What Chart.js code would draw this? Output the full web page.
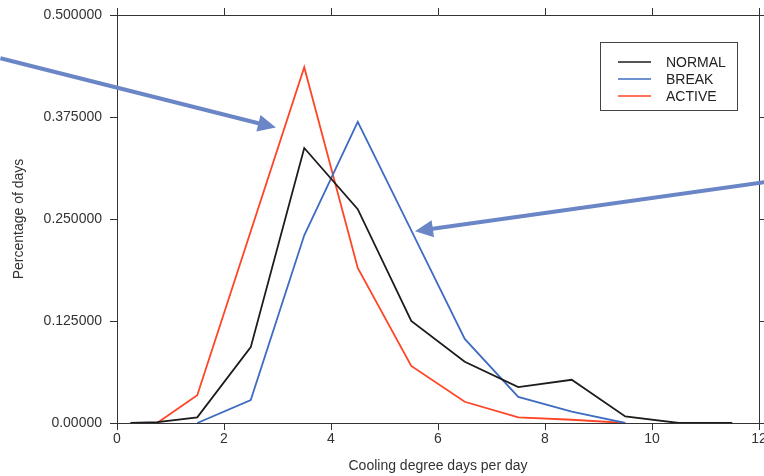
<!DOCTYPE html>
<html>
<head>
<meta charset="utf-8">
<script src="https://cdn.jsdelivr.net/npm/chart.js@4"></script>
<style>
  html, body { margin: 0; padding: 0; background: #fff; }
  #wrap { width: 764px; height: 476px; }
</style>
</head>
<body>
<div id="wrap"><canvas id="cdd-chart" width="764" height="476"></canvas></div>
<script>
// x positions (cooling degree days per day, bin centres)
const binCentres = [0.25, 0.75, 1.5, 2.5, 3.5, 4.5, 5.5, 6.5, 7.5, 8.5, 9.5, 10.5, 11.5];
// fraction of days per bin
const normalDays = [0, 0.001, 0.007, 0.093, 0.337, 0.262, 0.125, 0.075, 0.044, 0.053, 0.008, 0, 0];
const breakDays  = [null, null, 0, 0.028, 0.230, 0.369, 0.236, 0.103, 0.032, 0.014, 0, null, null];
const activeDays = [null, 0, 0.034, 0.235, 0.436, 0.190, 0.070, 0.026, 0.007, 0.004, 0, null, null];

const seriesLabels = ['NORMAL', 'BREAK', 'ACTIVE'];
const seriesColors = ['#1c1c1c', '#3d6cc2', '#ff4526'];

const xTicks = [0, 2, 4, 6, 8, 10, 12];
const yTicks = [0, 0.125, 0.25, 0.375, 0.5];

// annotation arrows in data units: [fromX, fromY, toX, toY]
const arrows = [
    [-2.18, 0.447, 2.97, 0.362],
    [12.1, 0.295, 5.57, 0.235]
];

function toPoints(values) {
    return binCentres.map((x, i) => ({ x: x, y: values[i] }));
}

// Custom legend box + arrows drawn over the chart
const extrasPlugin = {
    id: 'extras',
    afterDraw(chart) {
        const ctx = chart.ctx;
        const xs = chart.scales.x;
        const ys = chart.scales.y;

        // arrows
        ctx.save();
        ctx.strokeStyle = '#6a86c6';
        ctx.fillStyle = '#6a86c6';
        ctx.lineWidth = 4;
        arrows.forEach(a => {
            const x1 = xs.getPixelForValue(a[0]);
            const y1 = ys.getPixelForValue(a[1]);
            const x2 = xs.getPixelForValue(a[2]);
            const y2 = ys.getPixelForValue(a[3]);
            const ang = Math.atan2(y2 - y1, x2 - x1);
            const headLen = 18, headW = 8.5;
            const bx = x2 - headLen * Math.cos(ang);
            const by = y2 - headLen * Math.sin(ang);
            ctx.beginPath();
            ctx.moveTo(x1, y1);
            ctx.lineTo(bx + 2 * Math.cos(ang), by + 2 * Math.sin(ang));
            ctx.stroke();
            ctx.beginPath();
            ctx.moveTo(x2, y2);
            ctx.lineTo(bx + headW * Math.sin(ang), by - headW * Math.cos(ang));
            ctx.lineTo(bx - headW * Math.sin(ang), by + headW * Math.cos(ang));
            ctx.closePath();
            ctx.fill();
        });
        ctx.restore();

        // legend
        const left = 600, top = 42, w = 137, h = 68;
        ctx.save();
        ctx.fillStyle = '#fff';
        ctx.fillRect(left, top, w, h);
        ctx.strokeStyle = '#444';
        ctx.lineWidth = 1;
        ctx.strokeRect(left + 0.5, top + 0.5, w, h);
        ctx.font = '14px "Liberation Sans", Arial, sans-serif';
        ctx.textBaseline = 'middle';
        chart.data.datasets.forEach((ds, i) => {
            const y = top + 20 + i * 17;
            ctx.strokeStyle = ds.borderColor;
            ctx.lineWidth = 1.5;
            ctx.beginPath();
            ctx.moveTo(left + 18, y);
            ctx.lineTo(left + 51, y);
            ctx.stroke();
            ctx.fillStyle = '#222';
            ctx.fillText(ds.label, left + 66, y + 1);
        });
        ctx.restore();
    }
};

const frameGrid = {
    drawOnChartArea: false,
    drawTicks: true,
    tickLength: 7,
    color: '#333',
    lineWidth: 1
};
const frameBorder = { display: true, color: '#333', width: 1 };

new Chart(document.getElementById('cdd-chart'), {
    type: 'line',
    data: {
        datasets: [
            { label: seriesLabels[0], data: toPoints(normalDays), borderColor: seriesColors[0] },
            { label: seriesLabels[1], data: toPoints(breakDays), borderColor: seriesColors[1] },
            { label: seriesLabels[2], data: toPoints(activeDays), borderColor: seriesColors[2] }
        ].map(ds => Object.assign(ds, {
            borderWidth: 1.8,
            pointRadius: 0,
            tension: 0,
            fill: false,
            spanGaps: false,
            xAxisID: 'x',
            yAxisID: 'y'
        }))
    },
    options: {
        responsive: false,
        animation: false,
        events: [],
        layout: { padding: 0 },
        plugins: {
            legend: { display: false },
            tooltip: { enabled: false }
        },
        scales: {
            x: {
                type: 'linear',
                position: 'bottom',
                min: 0,
                max: 12,
                afterBuildTicks: s => { s.ticks = xTicks.map(v => ({ value: v })); },
                grid: frameGrid,
                border: frameBorder,
                ticks: {
                    padding: 1,
                    maxRotation: 0,
                    color: '#333',
                    font: { family: '"Liberation Sans", Arial, sans-serif', size: 14 }
                },
                title: {
                    display: true,
                    text: 'Cooling degree days per day',
                    color: '#333',
                    padding: { top: 0, bottom: 1 },
                    font: { family: '"Liberation Sans", Arial, sans-serif', size: 14 }
                },
                afterFit: s => { s.height = 53; s.paddingLeft = 0; s.paddingRight = 0; }
            },
            x2: {
                type: 'linear',
                position: 'top',
                min: 0,
                max: 12,
                afterBuildTicks: s => { s.ticks = xTicks.map(v => ({ value: v })); },
                grid: frameGrid,
                border: frameBorder,
                ticks: { display: false },
                afterFit: s => { s.height = 15; s.paddingLeft = 0; s.paddingRight = 0; }
            },
            y: {
                type: 'linear',
                position: 'left',
                min: 0,
                max: 0.5,
                afterBuildTicks: s => { s.ticks = yTicks.map(v => ({ value: v })); },
                grid: frameGrid,
                border: frameBorder,
                ticks: {
                    padding: 8,
                    color: '#333',
                    font: { family: '"Liberation Sans", Arial, sans-serif', size: 14 },
                    callback: v => (v === 0 ? '0.00000' : v.toFixed(6))
                },
                title: {
                    display: true,
                    text: 'Percentage of days',
                    color: '#333',
                    padding: { top: 11, bottom: 0 },
                    font: { family: '"Liberation Sans", Arial, sans-serif', size: 14 }
                },
                afterFit: s => { s.width = 117; s.paddingTop = 0; s.paddingBottom = 0; }
            },
            y2: {
                type: 'linear',
                position: 'right',
                min: 0,
                max: 0.5,
                afterBuildTicks: s => { s.ticks = yTicks.map(v => ({ value: v })); },
                grid: frameGrid,
                border: frameBorder,
                ticks: { display: false },
                afterFit: s => { s.width = 5; s.paddingTop = 0; s.paddingBottom = 0; }
            }
        }
    },
    plugins: [extrasPlugin]
});
</script>
</body>
</html>
